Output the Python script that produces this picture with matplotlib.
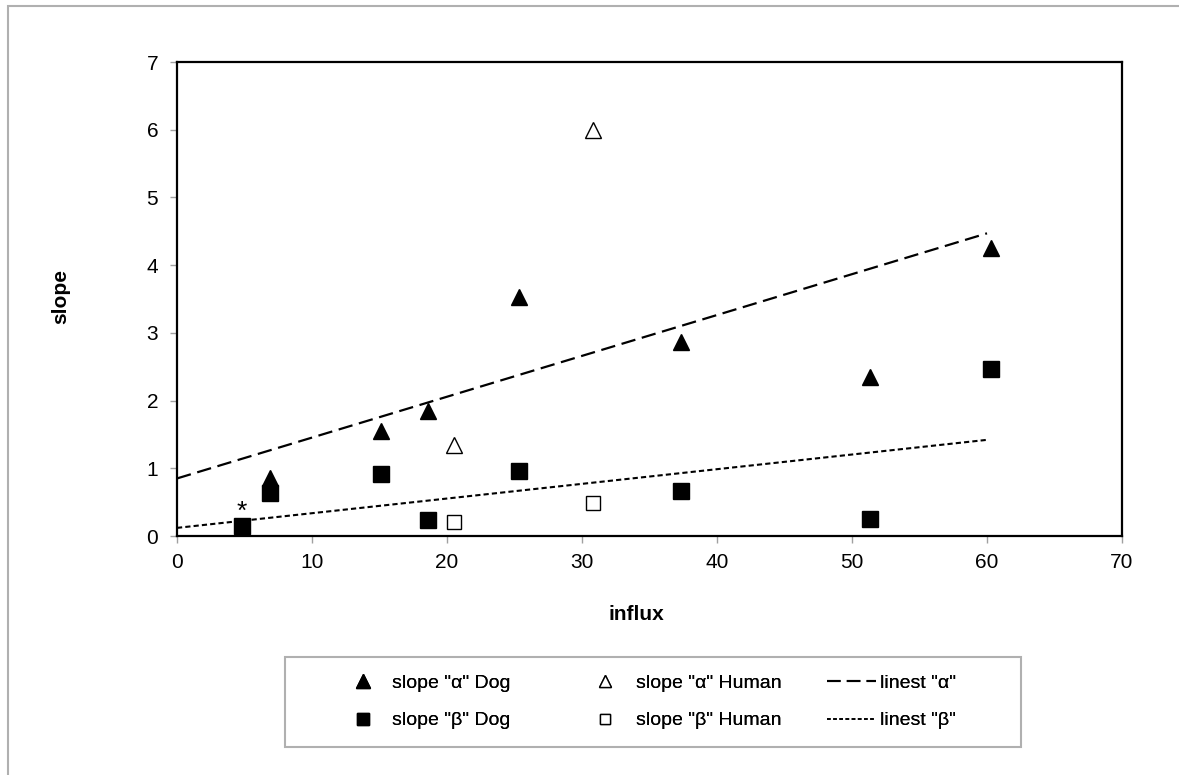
import matplotlib.pyplot as plt
from matplotlib.patches import Rectangle
from matplotlib.lines import Line2D

plt.rcParams['font.family'] = ['Liberation Sans', 'DejaVu Sans']

# values
dog_x = [6.9, 15.1, 18.6, 25.3, 37.3, 51.3, 60.3]
alpha_dog = [0.85, 1.55, 1.85, 3.53, 2.87, 2.35, 4.25]
beta_dog = [0.64, 0.92, 0.24, 0.96, 0.67, 0.25, 2.47]

# first beta dog point (marked with *)
star_x = [4.8]
star_y = [0.15]

human_x = [20.5, 30.8]
alpha_human = [1.34, 6.0]
beta_human = [0.21, 0.49]

fit_x = [0, 60]
fit_alpha = [0.85, 4.47]
fit_beta = [0.12, 1.42]

W, H = 1179, 775
fig = plt.figure(figsize=(W / 100, H / 100), dpi=100)

# outer frame of the chart area (right and bottom edges are cut off)
fig.patches.append(Rectangle((8 / W, -0.1), 1.2, 1 - 6 / H + 0.1,
                             transform=fig.transFigure, fill=False,
                             edgecolor='#b0b0b0', linewidth=1.5))

ax = fig.add_axes([177 / W, 1 - 536 / H, (1122 - 177) / W, (536 - 62) / H])

ax.plot(dog_x, alpha_dog, '^', color='black', ms=12, ls='none')
ax.plot(dog_x + star_x, beta_dog + star_y, 's', color='black', ms=11, ls='none')
ax.plot(human_x, alpha_human, '^', mfc='white', mec='black', mew=1, ms=11, ls='none')
ax.plot(human_x, beta_human, 's', mfc='white', mec='black', mew=1, ms=10, ls='none')
ax.plot(fit_x, fit_alpha, color='black', lw=1.6, dashes=(6.5, 3))
ax.plot(fit_x, fit_beta, color='black', lw=1.5, dashes=(2.5, 1.5))
ax.text(star_x[0], star_y[0] + 0.2, '*', ha='center', va='center', fontsize=19)

ax.set_xlim(0, 70)
ax.set_ylim(0, 7)
ax.set_xticks(range(0, 71, 10))
ax.set_yticks(range(0, 8))
ax.tick_params(labelsize=15, color='#a0a0a0', length=5, width=1)
ax.tick_params(axis='x', pad=7)
ax.tick_params(axis='y', pad=8.5)
for s in ax.spines.values():
    s.set_linewidth(1.6)

fig.text(636 / W, 1 - 615 / H, 'influx', fontsize=15, fontweight='bold',
         ha='center', va='center')
fig.text(61 / W, 1 - 296 / H, 'slope', fontsize=15, fontweight='bold',
         ha='center', va='center', rotation=90)

# legend: one frame, three columns
fig.patches.append(Rectangle((285 / W, 1 - 747 / H), (1021 - 285) / W, 90 / H,
                             transform=fig.transFigure, fill=False,
                             edgecolor='#b0b0b0', linewidth=1.5))

columns = [
    ([Line2D([], [], marker='^', color='black', ls='none', ms=10),
      Line2D([], [], marker='s', color='black', ls='none', ms=8.5)],
     ['slope "\u03b1" Dog', 'slope "\u03b2" Dog'], 339, 0.25),
    ([Line2D([], [], marker='^', mfc='white', mec='black', mew=1, ls='none', ms=9),
      Line2D([], [], marker='s', mfc='white', mec='black', mew=1, ls='none', ms=7.5)],
     ['slope "\u03b1" Human', 'slope "\u03b2" Human'], 581, 0.35),
    ([Line2D([], [], color='black', lw=1.5, dashes=(6.5, 3)),
      Line2D([], [], color='black', lw=1.2, dashes=(2.2, 1.5))],
     ['linest "\u03b1"', 'linest "\u03b2"'], 827, 0.2),
]
for hs, ls, x0, pad in columns:
    leg = fig.legend(hs, ls, loc='upper left', bbox_to_anchor=(x0 / W, 1 - 674 / H),
                     fontsize=14, frameon=False, borderpad=0, borderaxespad=0,
                     labelspacing=1.04, handlelength=2.5, handletextpad=pad)
    fig.add_artist(leg)

fig.savefig('out.png', dpi=100)
